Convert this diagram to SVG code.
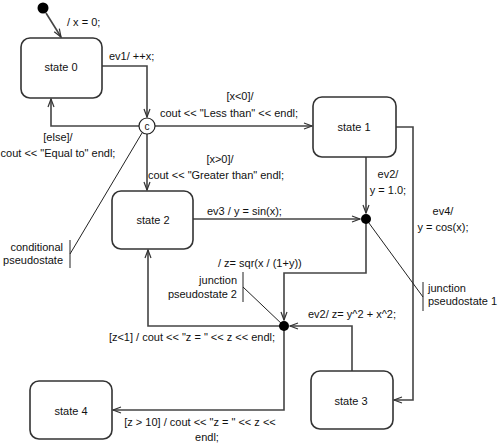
<svg xmlns="http://www.w3.org/2000/svg" width="500" height="444" viewBox="0 0 500 444">
<defs>
<marker id="a" markerWidth="10" markerHeight="10" refX="9" refY="4" orient="auto" markerUnits="userSpaceOnUse">
<path d="M1,1 L9,4 L1,7" fill="none" stroke="#333" stroke-width="1.2"/>
</marker>
</defs>
<style>
text{font-family:"Liberation Sans",Arial,sans-serif;font-size:11px;fill:#111}
.st{fill:#fff;stroke:#333;stroke-width:1.6}
.c{fill:none;stroke:#444;stroke-width:1.6}
.n{fill:none;stroke:#222;stroke-width:1}
.m{text-anchor:middle}
.e{text-anchor:end}
</style>
<rect width="500" height="444" fill="#fff"/>
<g id="connectors">
<path class="c" d="M46,13 L61,37" marker-end="url(#a)"/>
<path class="c" d="M102,66 H147 V117" marker-end="url(#a)"/>
<path class="c" d="M139,126 H51 V99" marker-end="url(#a)"/>
<path class="c" d="M155,126 H312" marker-end="url(#a)"/>
<path class="c" d="M147,134 V190" marker-end="url(#a)"/>
<path class="c" d="M396,127 H413 V400 H394" marker-end="url(#a)"/>
<path class="c" d="M366,157 V213" marker-end="url(#a)"/>
<path class="c" d="M193,219 H360" marker-end="url(#a)"/>
<path class="c" d="M366,219 V273 H284 V320" marker-end="url(#a)"/>
<path class="c" d="M352,371 V326 H290" marker-end="url(#a)"/>
<path class="c" d="M284,326 H148 V250" marker-end="url(#a)"/>
<path class="c" d="M284,326 V410 H113" marker-end="url(#a)"/>
<path class="n" d="M142,133 L70,254"/>
<path class="n" d="M366,219 L423,297"/>
<path class="n" d="M243,287 L284,326"/>
</g>
<g id="labels">
<text x="67" y="26">/ x = 0;</text>
<text x="109" y="60">ev1/ ++x;</text>
<text x="240" y="100" class="m">[x&lt;0]/</text>
<text x="229" y="117" class="m">cout &lt;&lt; "Less than" &lt;&lt; endl;</text>
<text x="58" y="141" class="m">[else]/</text>
<text x="58" y="157" class="m">cout &lt;&lt; "Equal to" endl;</text>
<text x="220" y="163" class="m">[x&gt;0]/</text>
<text x="216" y="179" class="m">cout &lt;&lt; "Greater than" endl;</text>
<text x="388" y="178" class="m">ev2/</text>
<text x="388" y="194" class="m">y = 1.0;</text>
<text x="443" y="215" class="m">ev4/</text>
<text x="443" y="231" class="m">y = cos(x);</text>
<text x="207" y="215">ev3 / y = sin(x);</text>
<text x="218" y="267">/ z= sqr(x / (1+y))</text>
<text x="308" y="318">ev2/ z= y^2 + x^2;</text>
<text x="192" y="341" class="m">[z&lt;1] / cout &lt;&lt; "z = " &lt;&lt; z &lt;&lt; endl;</text>
<text x="200" y="426" class="m">[z &gt; 10] / cout &lt;&lt; "z = " &lt;&lt; z &lt;&lt;</text>
<text x="207" y="441" class="m">endl;</text>
</g>
<g id="initial"><circle cx="43" cy="8" r="5.5" fill="#000"/></g>
<g id="state0"><rect class="st" x="21" y="38" width="81" height="60" rx="9"/><text x="61" y="71" class="m">state 0</text></g>
<g id="state1"><rect class="st" x="313" y="97" width="83" height="60" rx="9"/><text x="354" y="131" class="m">state 1</text></g>
<g id="state2"><rect class="st" x="112" y="191" width="81" height="58" rx="9"/><text x="153" y="224" class="m">state 2</text></g>
<g id="state3"><rect class="st" x="311" y="371" width="82" height="58" rx="9"/><text x="351" y="405" class="m">state 3</text></g>
<g id="state4"><rect class="st" x="30" y="381" width="82" height="58" rx="9"/><text x="71" y="415" class="m">state 4</text></g>
<g id="cond"><circle cx="147" cy="126" r="8" fill="#fff" stroke="#222" stroke-width="1.2"/><text x="147" y="130" class="m" style="font-size:10px">c</text></g>
<g id="junction1"><circle cx="366" cy="219" r="5" fill="#000"/></g>
<g id="junction2"><circle cx="284" cy="326" r="5" fill="#000"/></g>
<g id="note-cond"><path class="n" d="M70,240 V268" stroke-width="1.4"/><text x="63" y="251" class="e">conditional</text><text x="63" y="264" class="e">pseudostate</text></g>
<g id="note-j2"><path class="n" d="M243,272 V302" stroke-width="1.4"/><text x="237" y="284" class="e">junction</text><text x="237" y="298" class="e">pseudostate 2</text></g>
<g id="note-j1"><path class="n" d="M423,282 V311" stroke-width="1.4"/><text x="428" y="292" >junction</text><text x="428" y="305">pseudostate 1</text></g>
</svg>
